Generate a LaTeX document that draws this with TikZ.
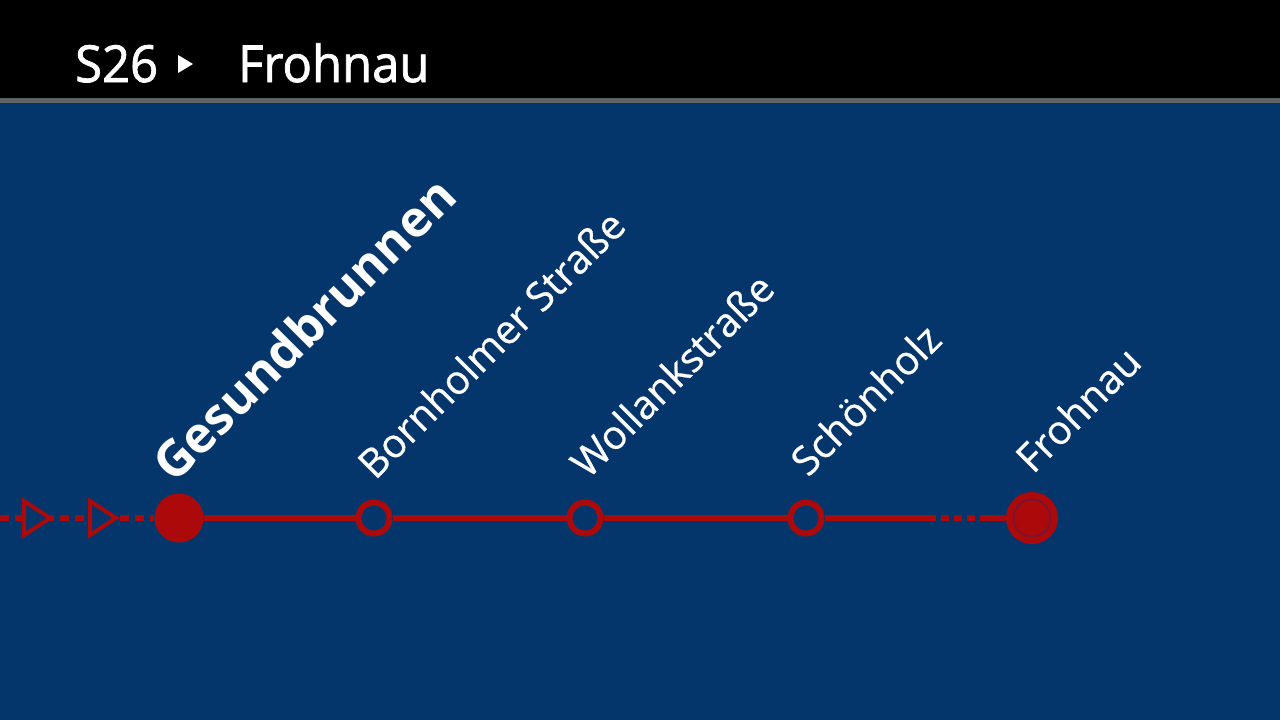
\documentclass[tikz,border=0pt]{standalone}
\usepackage{fontspec}
\setmainfont{Open Sans}
\definecolor{bgblue}{HTML}{04366C}
\definecolor{lred}{HTML}{AC0A0A}
\definecolor{ringdark}{HTML}{7A1430}
\definecolor{sepgrey}{HTML}{5E6460}
\tikzset{
  label/.style={text=white, anchor=base west, rotate=45, inner sep=0pt, font=\fontsize{40}{40}\selectfont\addfontfeature{FakeBold=0.6}},
  biglabel/.style={text=white, anchor=base west, rotate=45, inner sep=0pt, font=\fontsize{50}{50}\selectfont\bfseries},
  openstop/.style={circle, draw=lred, line width=6pt, fill=bgblue, minimum size=31pt, inner sep=0pt},
  mainstop/.style={circle, fill=lred, minimum size=49pt, inner sep=0pt},
  endstop/.style={circle, fill=lred, minimum size=52pt, inner sep=0pt},
  track/.style={draw=lred, line width=6pt},
  dashtrack/.style={draw=lred, line width=6pt, dash pattern=on 9pt off 6pt},
  dirarrow/.style={draw=lred, fill=bgblue, line width=4pt, line join=miter},
  head/.style={text=white, anchor=base west, inner sep=0pt, xscale=0.96, font=\fontsize{51}{51}\selectfont\addfontfeature{FakeBold=1.6}}
}
\begin{document}
\begin{tikzpicture}[x=1pt,y=-1pt]
\useasboundingbox (0,0) rectangle (1280,720);
\fill[bgblue] (0,0) rectangle (1280,720);
\fill[black] (0,0) rectangle (1280,98);
\fill[sepgrey] (0,98) rectangle (1280,103);
% header
\node[head] (hline) at (75,82) {S26};
\fill[white] (178,55) -- (193,64) -- (178,73) -- cycle;
\node[head] (hdest) at (238,82) {Frohnau};
% stations
\node[mainstop] (ges) at (179,518) {};
\node[openstop] (bor) at (374,518) {};
\node[openstop] (wol) at (585,518) {};
\node[openstop] (sch) at (806,518) {};
\node[endstop] (fro) at (1032,518) {};
\draw[ringdark, line width=2pt] (fro.center) circle (18.5);
% track
\coordinate (lstart) at (0,518);
\coordinate (dstart) at (928,518);
\coordinate (dend) at (988,518);
\draw[dashtrack] (lstart) -- (ges);
\draw[dirarrow] (24,501) -- (50,518) -- (24,535) -- cycle;
\draw[dirarrow] (90,501) -- (116,518) -- (90,535) -- cycle;
\draw[track] (ges) -- (bor);
\draw[track] (bor) -- (wol);
\draw[track] (wol) -- (sch);
\draw[track] (sch) -- (dstart);
\draw[draw=lred, line width=6pt, dash pattern=on 8pt off 5pt] (dstart) -- (dend);
\draw[track] (dend) -- (fro);
% labels
\node[biglabel] (lges) at (174,485) {Gesundbrunnen};
\node[label] (lbor) at (375,481) {Bornholmer Straße};
\node[label] (lwol) at (588,480) {Wollankstraße};
\node[label] (lsch) at (808,478) {Schönholz};
\node[label] (lfro) at (1033,475) {Frohnau};
\end{tikzpicture}
\end{document}
